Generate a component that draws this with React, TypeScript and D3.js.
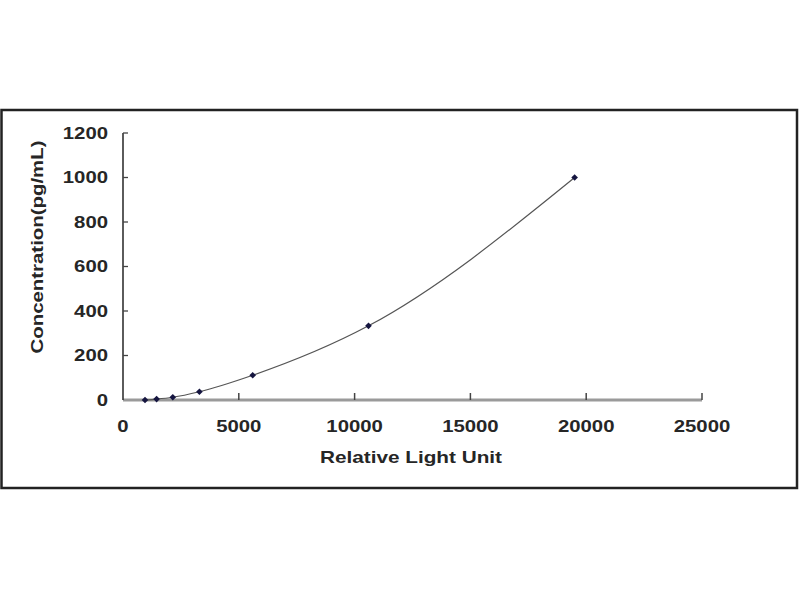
import React from "react";
import * as d3 from "d3";

const rluValues = [950, 1450, 2150, 3300, 5600, 10600, 19500];
const concValues = [0, 4.1, 12.3, 37, 111.1, 333.3, 1000];
const xTicks = [0, 5000, 10000, 15000, 20000, 25000];
const yTicks = [0, 200, 400, 600, 800, 1000, 1200];
const xTitle = "Relative Light Unit";
const yTitle = "Concentration(pg/mL)";

const W = 800;
const H = 600;
const x0 = 123, x1 = 702;
const y0 = 400, y1 = 133;
const FONT = "'Liberation Sans', Arial, sans-serif";
const TXT = "#262626";

export default function App() {
  const x = d3.scaleLinear().domain([0, 25000]).range([x0, x1]);
  const y = d3.scaleLinear().domain([0, 1200]).range([y0, y1]);
  const pts = rluValues.map((v, i) => [v, concValues[i]] as [number, number]);
  const line = d3
    .line<[number, number]>()
    .x((d) => x(d[0]))
    .y((d) => y(d[1]))
    .curve(d3.curveMonotoneX);
  const marker = d3.symbol().type(d3.symbolSquare).size(22)();
  const perChar = 11.3;

  return (
    <svg
      width={W}
      height={H}
      style={{ position: "absolute", left: 0, top: 0, background: "#fff" }}
    >
      <rect x={0} y={0} width={W} height={H} fill="#fff" />
      <rect x={1.5} y={110} width={795.5} height={378} fill="#fff" stroke="#222" strokeWidth={2.5} />

      {/* x axis */}
      <line x1={x0} x2={x1} y1={y0} y2={y0} stroke="#9a9a9a" strokeWidth={3} />
      {xTicks.map((t) => (
        <g key={"xt" + t}>
          {t > 0 && (
            <line x1={x(t)} x2={x(t)} y1={y0} y2={y0 - 7} stroke="#444" strokeWidth={1.5} />
          )}
          <text
            x={x(t)}
            y={426}
            textAnchor="middle"
            dominantBaseline="central"
            fontFamily={FONT}
            fontWeight="bold"
            fontSize={16}
            fill={TXT}
            textLength={perChar * String(t).length}
            lengthAdjust="spacingAndGlyphs"
          >
            {t}
          </text>
        </g>
      ))}

      {/* y axis */}
      <line x1={x0} x2={x0} y1={y0} y2={y1} stroke="#333" strokeWidth={1.6} />
      {yTicks.map((t) => (
        <g key={"yt" + t}>
          {t > 0 && (
            <line x1={x0} x2={x0 + 5} y1={y(t)} y2={y(t)} stroke="#444" strokeWidth={1.3} />
          )}
          <text
            x={108}
            y={y(t)}
            textAnchor="end"
            dominantBaseline="central"
            fontFamily={FONT}
            fontWeight="bold"
            fontSize={16}
            fill={TXT}
            textLength={perChar * String(t).length}
            lengthAdjust="spacingAndGlyphs"
          >
            {t}
          </text>
        </g>
      ))}

      {/* curve */}
      <path d={line(pts) || ""} fill="none" stroke="#555" strokeWidth={1.2} />
      {pts.map((d, i) => (
        <path
          key={"p" + i}
          d={marker || ""}
          transform={`translate(${x(d[0])},${y(d[1])}) rotate(45)`}
          fill="#151540"
        />
      ))}

      {/* titles */}
      <text
        x={411}
        y={457}
        textAnchor="middle"
        dominantBaseline="central"
        fontFamily={FONT}
        fontWeight="bold"
        fontSize={17}
        fill={TXT}
        textLength={182}
        lengthAdjust="spacingAndGlyphs"
      >
        {xTitle}
      </text>
      <text
        transform="translate(37,247) rotate(-90)"
        textAnchor="middle"
        dominantBaseline="central"
        fontFamily={FONT}
        fontWeight="bold"
        fontSize={16}
        fill={TXT}
        textLength={213}
        lengthAdjust="spacingAndGlyphs"
      >
        {yTitle}
      </text>
    </svg>
  );
}
